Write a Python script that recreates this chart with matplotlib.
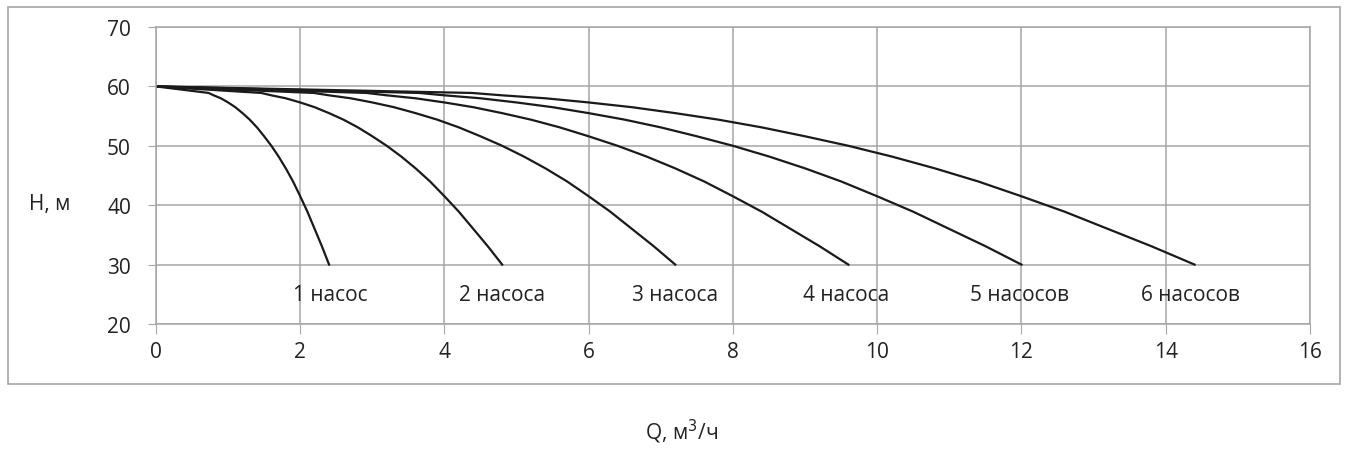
import matplotlib.pyplot as plt
from matplotlib.patches import Rectangle

plt.rcParams['font.family'] = ['Open Sans', 'DejaVu Sans']

# характеристика одного насоса (Q, м3/ч ; H, м)
q_one = [0, 0.73, 0.8, 0.9, 1.0, 1.1, 1.2, 1.3, 1.4, 1.5, 1.6, 1.7, 1.8, 1.9,
         2.0, 2.1, 2.2, 2.3, 2.4]
h_one = [60, 58.9, 58.5, 58.0, 57.3, 56.5, 55.5, 54.4, 53.1, 51.6, 50.0, 48.2,
         46.2, 44.0, 41.5, 38.9, 36.0, 33.1, 30.0]

pumps = [1, 2, 3, 4, 5, 6]
labels = ["1 насос", "2 насоса", "3 насоса", "4 насоса", "5 насосов", "6 насосов"]
label_x = [1.90, 4.20, 6.60, 8.97, 11.28, 13.66]
label_y = 25

fig = plt.figure(figsize=(13.47, 4.52), dpi=100)
ax = fig.add_axes([0.1158, 0.281, 0.8567, 0.657])

# parallel operation: flow adds up, head stays the same
for n in pumps:
    ax.plot([q * n for q in q_one], h_one, color="#1a1a1a", linewidth=1.6,
            solid_joinstyle="round")

for txt, x in zip(labels, label_x):
    ax.text(x, label_y, txt, fontsize=15, color="#222222", ha="left", va="center")

ax.set_xlim(0, 16)
ax.set_ylim(20, 70)
ax.set_xticks(range(0, 17, 2))
ax.set_yticks(range(20, 71, 10))
ax.grid(True, color="#a6a6a6", linewidth=1.1)
ax.set_axisbelow(True)
for s in ax.spines.values():
    s.set_color("#a6a6a6")
    s.set_linewidth(1.1)
ax.tick_params(axis="x", length=7, color="#a6a6a6", labelsize=15, pad=5,
               labelcolor="#222222")
ax.tick_params(axis="y", length=6, color="#a6a6a6", labelsize=15, pad=12,
               labelcolor="#222222")

fig.text(50 / 1347, 1 - 205 / 452, "H, м", fontsize=15, color="#222222",
         ha="center", va="center")
fig.text(682 / 1347, 1 - 432 / 452, "Q, м$^3$/ч", fontsize=15, color="#222222",
         ha="center", va="center")

fig.patches.append(Rectangle((8 / 1347, 1 - 385 / 452), 1332 / 1347, 377 / 452,
                             transform=fig.transFigure, fill=False,
                             edgecolor="#a6a6a6", linewidth=1.2))

fig.savefig("out.png", dpi=100)
